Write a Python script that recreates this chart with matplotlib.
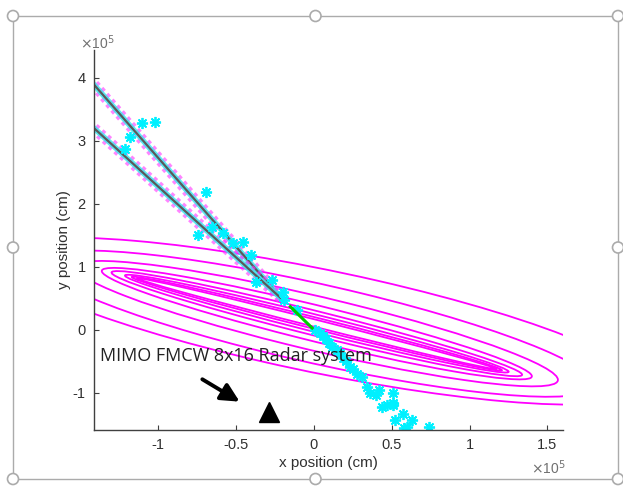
import matplotlib
matplotlib.use("Agg")
import matplotlib.pyplot as plt
from matplotlib.patches import Ellipse
from matplotlib.lines import Line2D

# ---------------- data (units of 1e5 cm) ----------------
# two straight target trajectories (start -> end)
track1_x = [-1.41, -0.20]
track1_y = [3.89, 0.48]
track2_x = [-1.41, -0.20]
track2_y = [3.20, 0.48]

# fused segment (green)
fused_x = [-0.15, -0.01]
fused_y = [0.37, 0.03]

# cyan detections
det_x = [-1.18, -1.10, -1.02, -1.21, -0.69, -0.74, -0.65, -0.58, -0.455, -0.40,
         -0.52, -0.37, -0.27, -0.20, -0.19, -0.11, 0.01, 0.04, 0.06, 0.08, 0.10,
         0.12, 0.15, 0.17, 0.19, 0.21, 0.23, 0.25, 0.28,
         0.31, 0.34, 0.36, 0.40, 0.42, 0.44, 0.47, 0.51, 0.51, 0.51, 0.57, 0.52,
         0.63, 0.58, 0.60, 0.74]
det_y = [3.06, 3.29, 3.30, 2.87, 2.19, 1.51, 1.63, 1.54, 1.40, 1.19,
         1.38, 0.76, 0.79, 0.60, 0.48, 0.32, 0.00, -0.05, -0.10, -0.15, -0.21,
         -0.27, -0.32, -0.37, -0.45, -0.50, -0.59, -0.62, -0.70,
         -0.75, -0.90, -1.00, -1.03, -0.95, -1.22, -1.19, -1.00, -1.19, -1.16, -1.33, -1.43,
         -1.43, -1.56, -1.54, -1.54]

# covariance ellipses: centre x, centre y, semi-major, semi-minor, angle (deg)
ell_cx = [0.02, 0.02, 0.02, 0.02, 0.02, 0.02, 0.02, 0.04]
ell_cy = [0.10, 0.10, 0.10, 0.10, 0.10, 0.10, 0.10, 0.14]
ell_a = [1.36, 1.40, 1.45, 1.55, 1.62, 1.80, 2.05, 2.35]
ell_b = [0.05, 0.08, 0.12, 0.17, 0.25, 0.38, 0.56, 0.74]
ell_ang = [-32, -32, -32, -32, -32, -31.5, -31, -29.5]

# radar position
radar_x = [-0.29]
radar_y = [-1.30]

xticks = [-1, -0.5, 0, 0.5, 1, 1.5]
xticklabels = ["-1", "-0.5", "0", "0.5", "1", "1.5"]
yticks = [-1, 0, 1, 2, 3, 4]
yticklabels = ["-1", "0", "1", "2", "3", "4"]

# ---------------- figure ----------------
W, H = 623, 487
fig = plt.figure(figsize=(W / 100, H / 100), dpi=100)
fig.patch.set_facecolor("white")

# document frame with selection handles
frame_col = "#ababab"
fl, fr, ft, fb = 13 / W, 618 / W, 1 - 16 / H, 1 - 479 / H
fig.add_artist(Line2D([fl, fr, fr, fl, fl], [ft, ft, fb, fb, ft], transform=fig.transFigure,
                      color=frame_col, lw=1.0))
for hx, hy in [(fl, ft), ((fl + fr) / 2, ft), (fr, ft), (fl, (ft + fb) / 2), (fr, (ft + fb) / 2),
               (fl, fb), ((fl + fr) / 2, fb), (fr, fb)]:
    fig.add_artist(Ellipse((hx, hy), 11 / W, 11 / H, transform=fig.transFigure,
                           facecolor="white", edgecolor=frame_col, lw=1.2, zorder=10))

ax = fig.add_axes([94 / W, 1 - 430 / H, 469 / W, 380 / H])
ax.set_xlim(-1.41, 1.60)
ax.set_ylim(-1.587, 4.44)

# ellipses
for cx, cy, a, b, ang in zip(ell_cx, ell_cy, ell_a, ell_b, ell_ang):
    ax.add_patch(Ellipse((cx, cy), 2 * a, 2 * b, angle=ang, fill=False,
                         edgecolor="#ff00ff", lw=1.3))

# trajectories
for tx, ty in [(track1_x, track1_y), (track2_x, track2_y)]:
    ax.plot(tx, ty, color="#ff33ff", lw=8, alpha=0.6, dashes=(0.35, 0.35), solid_capstyle="butt")
    ax.plot(tx, ty, color="#40e8f0", lw=4, alpha=0.85)
    ax.plot(tx, ty, color="#5a5a5a", lw=1.6)

ax.plot(det_x, det_y, linestyle="none", marker=(8, 2, 0), markersize=8,
        markeredgecolor="#00f0ff", markeredgewidth=1.3)

ax.plot(fused_x, fused_y, color="#00cc00", lw=2.2)

ax.plot(radar_x, radar_y, linestyle="none", marker="^", markersize=14, color="black")

ax.annotate("", xy=(-0.46, -1.16), xytext=(-0.73, -0.76),
            arrowprops=dict(arrowstyle="-|>,head_length=1.1,head_width=0.55", color="black", lw=2.8))
ax.text(-1.37, -0.41, "MIMO FMCW 8x16 Radar system", fontsize=13, family="Open Sans",
        color="#222222", va="center", ha="left")

# axes styling
for s in ["top", "right"]:
    ax.spines[s].set_visible(False)
for s in ["left", "bottom"]:
    ax.spines[s].set_color("#404040")
    ax.spines[s].set_linewidth(1.0)
ax.set_xticks(xticks)
ax.set_xticklabels(xticklabels)
ax.set_yticks(yticks)
ax.set_yticklabels(yticklabels)
ax.tick_params(direction="in", length=3.5, width=0.8, color="#404040", labelcolor="#303030",
               labelsize=10.5, pad=6)
for lab in ax.get_xticklabels() + ax.get_yticklabels():
    lab.set_family("Liberation Sans")

ax.set_xlabel("x position (cm)", fontsize=11, family="Liberation Sans", color="#303030", labelpad=3)
ax.set_ylabel("y position (cm)", fontsize=11, family="Liberation Sans", color="#303030", labelpad=1)

fig.text(80 / W, 1 - 43 / H, r"$\times$10$^5$", fontsize=10, family="Liberation Sans",
         color="#707070", va="center", ha="left")
fig.text(531 / W, 1 - 468 / H, r"$\times$10$^5$", fontsize=10, family="Liberation Sans",
         color="#707070", va="center", ha="left")

fig.savefig("out.png", dpi=100, facecolor="white")
